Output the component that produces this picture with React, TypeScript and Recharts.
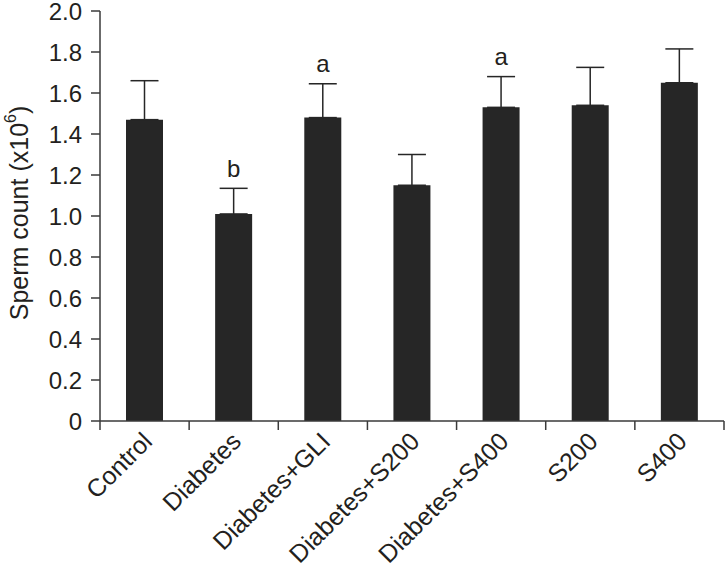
import React from 'react';
import { ComposedChart, Bar, XAxis, YAxis, ErrorBar, Scatter, LabelList, Label } from 'recharts';

const categories = ['Control', 'Diabetes', 'Diabetes+GLI', 'Diabetes+S200', 'Diabetes+S400', 'S200', 'S400'];
const means = [1.47, 1.01, 1.48, 1.15, 1.53, 1.54, 1.65];
const sds = [0.19, 0.125, 0.165, 0.15, 0.15, 0.185, 0.165];
const sigLetters = ['', 'b', 'a', '', 'a', '', ''];
const yTicks = [0, 0.2, 0.4, 0.6, 0.8, 1.0, 1.2, 1.4, 1.6, 1.8, 2.0];

const data = categories.map((c, i) => ({
  name: c,
  mean: means[i],
  err: [0, sds[i]],
  top: means[i] + sds[i],
  sig: sigLetters[i],
}));

const FONT = '"Liberation Sans", Arial, Helvetica, sans-serif';
const TEXT = '#231f20';
const AXIS = '#3a3a3a';

const XTick = (props: any) => {
  const { x, y, payload, index } = props;
  const off = payload && payload.offset != null ? payload.offset : 44.5;
  const last = index === categories.length - 1;
  return (
    <g>
      <line x1={x - off} x2={x - off} y1={y} y2={y + 9} stroke={AXIS} strokeWidth={1.5} />
      {last && <line x1={x + off} x2={x + off} y1={y} y2={y + 9} stroke={AXIS} strokeWidth={1.5} />}
      <text
        transform={`translate(${x + 9},${y + 22}) rotate(-45)`}
        textAnchor="end"
        fontSize={25}
        fontFamily={FONT}
        fill={TEXT}
      >
        {payload.value}
      </text>
    </g>
  );
};

const YLabel = (props: any) => {
  const vb = props.viewBox || { x: 0, y: 11, width: 100, height: 410 };
  const cx = vb.x + 28;
  const cy = vb.y + vb.height / 2 - 3;
  return (
    <text
      transform={`translate(${cx},${cy}) rotate(-90)`}
      textAnchor="middle"
      fontSize={25}
      fontFamily={FONT}
      fill={TEXT}
    >
      Sperm count (x10
      <tspan dy={-12} fontSize={16}>6</tspan>
      <tspan dy={12}>)</tspan>
    </text>
  );
};

const emptyShape = () => <g />;

export default function App() {
  return (
    <div style={{ position: 'absolute', left: 0, top: 0, background: '#fff' }}>
      <ComposedChart
        width={725}
        height={568}
        data={data}
        margin={{ top: 11, right: 1, bottom: 0, left: 0 }}
      >
        <XAxis
          dataKey="name"
          type="category"
          height={147}
          tickLine={false}
          tickSize={0}
          tickMargin={0}
          interval={0}
          axisLine={{ stroke: AXIS, strokeWidth: 1.5 }}
          tick={<XTick />}
        />
        <YAxis
          width={100}
          domain={[0, 2]}
          ticks={yTicks}
          interval={0}
          tickSize={9}
          tickMargin={9}
          tickFormatter={(v: number) => (v === 0 ? '0' : v.toFixed(1))}
          tick={{ fontSize: 24, fontFamily: FONT, fill: TEXT }}
          tickLine={{ stroke: AXIS, strokeWidth: 1.5 }}
          axisLine={{ stroke: AXIS, strokeWidth: 1.5 }}
          allowDataOverflow
        >
          <Label content={<YLabel />} />
        </YAxis>
        <Bar dataKey="mean" fill="#262626" barSize={37} isAnimationActive={false}>
          <ErrorBar dataKey="err" direction="y" width={14} stroke="#262626" strokeWidth={1.5} />
        </Bar>
        <Scatter dataKey="top" shape={emptyShape} isAnimationActive={false}>
          <LabelList
            dataKey="sig"
            position="top"
            offset={7}
            fontSize={24}
            fontFamily={FONT}
            fill={TEXT}
          />
        </Scatter>
      </ComposedChart>
    </div>
  );
}
